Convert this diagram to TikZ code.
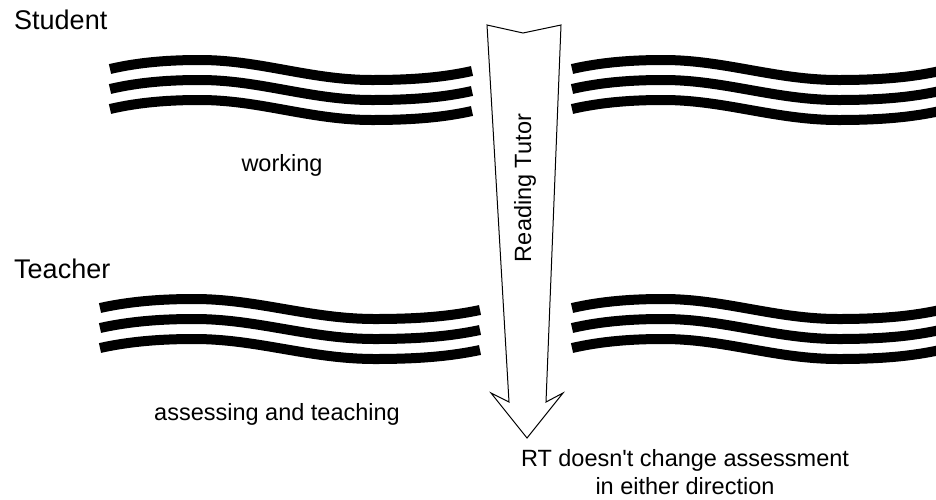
\documentclass[tikz,border=0pt]{standalone}
\usepackage{fontspec}
\setmainfont{Liberation Sans}
\usepackage{tikz}

\begin{document}
\begin{tikzpicture}[
  x=1pt,
  y=-1pt,
  wave/.style={line width=10pt, draw=black},
  role/.style={anchor=base west, inner sep=0pt, font=\fontsize{27}{32}\selectfont},
  caption/.style={inner sep=0pt, font=\fontsize{23.5}{28}\selectfont},
  blockarrow/.style={draw=black, fill=white, line width=1pt, line join=miter}
]
  \useasboundingbox (0,0) rectangle (936,499);
  \clip (0,0) rectangle (936,499);

  % three wavy lines in each band
  \foreach \sx/\sy/\w in {110/69/362, 572/69/368, 100/308/380, 572/308/368}
    \foreach \k in {0,1,2}
      \draw[wave, shift={(\sx,{\sy+20*\k})}, xscale=\w/362]
        (0,0) .. controls (30,-7) and (60,-9) .. (90,-9)
        .. controls (150,-9) and (200,11) .. (262,11)
        .. controls (305,11) and (335,8) .. (362,2);

  \draw[blockarrow] (487,25) -- (523,33) -- (561,25) -- (546,402) -- (563,393)
    -- (527,438) -- (491,393) -- (509,402) -- cycle;
  \node[caption, rotate=90] (tutor) at (525,188) {Reading Tutor};

  \node[role] (student) at (14,29) {Student};
  \node[role] (teacher) at (14,278) {Teacher};
  \node[caption, anchor=base] (working) at (282,171) {working};
  \node[caption, anchor=base] (assess) at (277,420) {assessing and teaching};
  \node[caption, anchor=north, align=center] (nochange) at (685,449)
    {RT doesn\textquotesingle t change assessment\\in either direction};
\end{tikzpicture}
\end{document}
